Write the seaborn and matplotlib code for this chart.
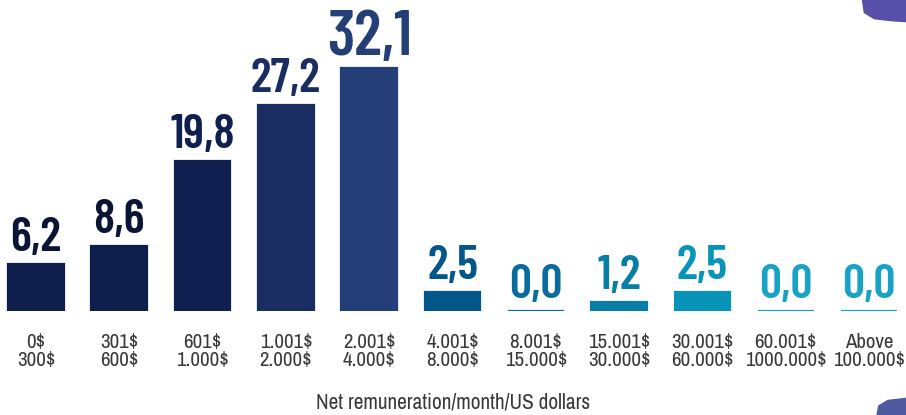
import matplotlib
matplotlib.use("Agg")
import matplotlib.pyplot as plt
from matplotlib.patches import Polygon
import pandas as pd
import seaborn as sns

# Income brackets (two-line tick labels) and share of respondents (%)
brackets = [
    "0$\n300$", "301$\n600$", "601$\n1.000$", "1.001$\n2.000$", "2.001$\n4.000$",
    "4.001$\n8.000$", "8.001$\n15.000$", "15.001$\n30.000$", "30.001$\n60.000$",
    "60.001$\n1000.000$", "Above\n100.000$",
]
shares = [6.2, 8.6, 19.8, 27.2, 32.1, 2.5, 0.0, 1.2, 2.5, 0.0, 0.0]
bar_colors = [
    "#0d1e4c", "#0d1e4c", "#0f1f4f", "#1a2d62", "#243e78",
    "#02568a", "#0a6c9c", "#087ea6", "#0894b9", "#18a3c6", "#18a3c6",
]
label_colors = [
    "#0a1434", "#0a1434", "#0f1f4f", "#1a2d62", "#243e78",
    "#02568a", "#0a6c9c", "#087ea6", "#0894b9", "#18a3c6", "#18a3c6",
]
x_title = "Net remuneration/month/US dollars"

df = pd.DataFrame({"bracket": brackets, "share": shares})

sns.set_theme(style="white")
plt.rcParams["font.family"] = ["Barlow Condensed", "DejaVu Sans"]
label_font = ["Archivo Narrow", "DejaVu Sans"]

fig = plt.figure(figsize=(9.06, 4.15), dpi=100)
ax = fig.add_axes([0, 104 / 415, 1, 311 / 415])

sns.barplot(
    data=df, x="bracket", y="share", hue="bracket", palette=bar_colors,
    legend=False, width=0.67, ax=ax, saturation=1,
)
for patch, col in zip(ax.patches, bar_colors):
    patch.set_edgecolor(col)
    patch.set_linewidth(1.6)

ax.set_xlim(-0.432, 10.444)
ax.set_ylim(0, 41.08)

for i, (v, col) in enumerate(zip(shares, label_colors)):
    big = v == max(shares)
    ax.annotate(
        f"{v:.1f}".replace(".", ","), (i, v), xytext=(0, 1 if big else 3),
        textcoords="offset points", ha="center", va="bottom",
        fontsize=46 if big else 35, fontweight=600, color=col,
    )

ax.set_yticks([])
ax.tick_params(axis="x", length=0, pad=16, labelcolor="#383838")
for lbl in ax.get_xticklabels():
    lbl.set_family(label_font)
    lbl.set_fontsize(15)
    lbl.set_linespacing(0.95)
ax.set_xlabel("")
ax.set_ylabel("")
sns.despine(ax=ax, left=True, bottom=True)

fig.text(0.5, 13 / 415, x_title, ha="center", va="center",
         fontsize=15.3, color="#383838", family=label_font)

# Decorative corner shapes
top_blob = Polygon(
    [(0.952, 1.0), (0.954, 0.97), (0.965, 0.955), (0.985, 0.95), (1.0, 0.948),
     (1.0, 1.0)],
    closed=True, transform=fig.transFigure, color="#5850a8", zorder=5,
)
bottom_blob = Polygon(
    [(0.968, 0.0), (0.97, 0.022), (0.98, 0.035), (1.0, 0.04), (1.0, 0.0)],
    closed=True, transform=fig.transFigure, color="#4f5aa0", zorder=5,
)
fig.patches.extend([top_blob, bottom_blob])

fig.savefig("out.png", dpi=100)
